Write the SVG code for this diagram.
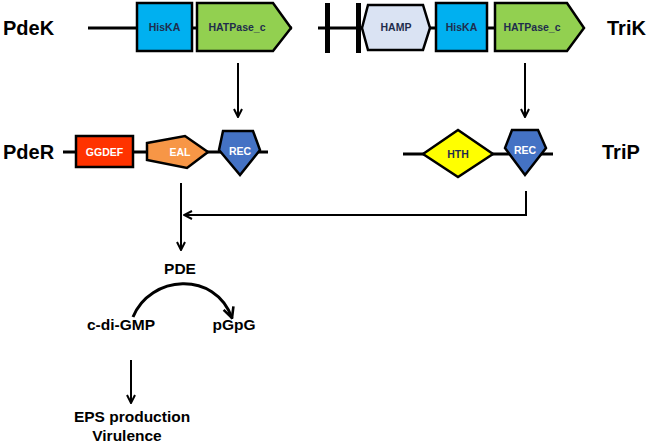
<svg xmlns="http://www.w3.org/2000/svg" width="649" height="446" viewBox="0 0 649 446">
<style>
.lbl{font-family:"Liberation Sans",Arial,sans-serif;font-weight:bold;fill:#000}
.big{font-size:20px}
.mid{font-size:15.5px}
.dom{font-family:"Liberation Sans",Arial,sans-serif;font-weight:bold;font-size:10.5px;text-anchor:middle;dominant-baseline:central}
.dk{fill:#1f2d4d}
.wt{fill:#fff}
.shape{stroke:#000;stroke-width:2.5;stroke-linejoin:miter}
.ln{stroke:#000;stroke-width:3;fill:none}
.conn{stroke:#000;stroke-width:2;fill:none}
</style>
<defs>
<marker id="ah" viewBox="0 0 10 10" refX="9" refY="5" markerWidth="10" markerHeight="10" markerUnits="userSpaceOnUse" orient="auto">
<path d="M1,1 L9,5 L1,9" fill="none" stroke="#000" stroke-width="2"/>
</marker>
<marker id="ah2" viewBox="0 0 10 10" refX="9" refY="5" markerWidth="13" markerHeight="13" markerUnits="userSpaceOnUse" orient="auto">
<path d="M1,1 L9,5 L1,9" fill="none" stroke="#000" stroke-width="2"/>
</marker>
</defs>
<rect width="649" height="446" fill="#fff"/>

<g id="PdeK">
<line class="ln" x1="88" y1="28" x2="292" y2="28"/>
<rect class="shape" x="137" y="3" width="55" height="48" fill="#00b0f0"/>
<text class="dom dk" x="164.5" y="27">HisKA</text>
<polygon class="shape" points="197,3 273,3 291,28 273,51 197,51" fill="#92d050"/>
<text class="dom dk" x="237" y="27">HATPase_c</text>
<text class="lbl big" x="3" y="35">PdeK</text>
</g>

<g id="TriK">
<line class="ln" x1="318" y1="28" x2="435" y2="28"/>
<rect x="325" y="3" width="5" height="50" fill="#000"/>
<rect x="356" y="3" width="5" height="50" fill="#000"/>
<polygon class="shape" points="362,28 368,5 423,5 430,28 423,50 368,50" fill="#dae3f3"/>
<text class="dom dk" x="396" y="27">HAMP</text>
<line class="ln" x1="487" y1="28" x2="495" y2="28"/>
<rect class="shape" x="436" y="3" width="51" height="48" fill="#00b0f0"/>
<text class="dom dk" x="461.5" y="27">HisKA</text>
<polygon class="shape" points="495,3 567,3 584,28 567,51 495,51" fill="#92d050"/>
<text class="dom dk" x="532" y="27">HATPase_c</text>
<text class="lbl big" x="607" y="35">TriK</text>
</g>

<g id="PdeR">
<line class="ln" x1="63" y1="152" x2="268" y2="152"/>
<rect class="shape" x="76" y="136" width="57" height="31" fill="#ff3300"/>
<text class="dom wt" x="104.5" y="151.5">GGDEF</text>
<polygon class="shape" points="147,143 185,136 208,152 187,168 147,160" fill="#f79646"/>
<text class="dom wt" x="180" y="152">EAL</text>
<polygon class="shape" points="223,131 253,131 260,150 240,175 219,150" fill="#4472c4"/>
<text class="dom wt" x="240" y="151">REC</text>
<text class="lbl big" x="3" y="159">PdeR</text>
</g>

<g id="TriP">
<line class="ln" x1="403" y1="154" x2="553" y2="154"/>
<polygon class="shape" points="423,154 458,130 493,154 458,177" fill="#ffff00"/>
<text class="dom dk" x="458" y="154">HTH</text>
<polygon class="shape" points="512,130 538,130 546,148 525,175 505,148" fill="#4472c4"/>
<text class="dom wt" x="525" y="150">REC</text>
<text class="lbl big" x="602" y="159">TriP</text>
</g>

<g id="PDE-reaction">
<text class="lbl mid" x="180" y="274" text-anchor="middle">PDE</text>
<text class="lbl mid" x="121" y="330" text-anchor="middle">c-di-GMP</text>
<text class="lbl mid" x="234" y="330" text-anchor="middle">pGpG</text>
</g>

<g id="Outcome">
<text class="lbl mid" x="132" y="422" text-anchor="middle">EPS production</text>
<text class="lbl mid" x="127" y="441" text-anchor="middle">Virulence</text>
</g>

<g id="connectors">
<line class="conn" x1="238" y1="63" x2="238" y2="117" marker-end="url(#ah)"/>
<line class="conn" x1="525" y1="63" x2="525" y2="117" marker-end="url(#ah)"/>
<line class="conn" x1="181" y1="183" x2="181" y2="250" marker-end="url(#ah)"/>
<polyline class="conn" points="526,191 526,215 184,215" marker-end="url(#ah)"/>
<path class="ln" d="M133,317 C150,275 215,270 232,318" marker-end="url(#ah2)"/>
<line class="conn" x1="131" y1="360" x2="131" y2="403" marker-end="url(#ah)"/>
</g>
</svg>
